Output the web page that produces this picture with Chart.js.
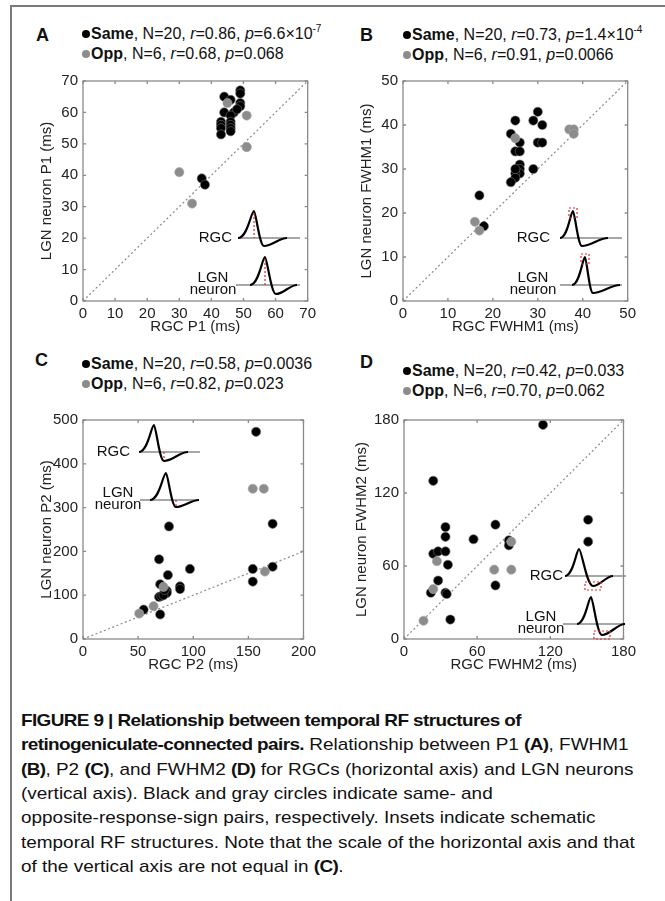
<!DOCTYPE html>
<html>
<head>
<meta charset="utf-8">
<script src="https://cdn.jsdelivr.net/npm/chart.js@4.4.1/dist/chart.umd.min.js"></script>
<style>
html,body{margin:0;padding:0;background:#fff;}
body{width:665px;height:901px;position:relative;overflow:hidden;font-family:"Liberation Sans",Arial,sans-serif;color:#111;}
.frameL{position:absolute;left:10px;top:5px;width:2px;height:896px;background:#7a7a7a;}
.frameT{position:absolute;left:10px;top:5px;width:655px;height:2px;background:#7a7a7a;}
canvas{position:absolute;}
.letter{position:absolute;font-weight:bold;font-size:18px;line-height:18px;}
.leg{position:absolute;font-size:16px;line-height:20px;white-space:nowrap;}
.dot{display:inline-block;width:8px;height:8px;border-radius:50%;margin-right:1px;vertical-align:1px;}
.leg sup{font-size:10px;vertical-align:7px;line-height:0;}
.cap{position:absolute;left:21px;font-family:"Liberation Sans",Arial,sans-serif;font-size:17px;line-height:24.3px;white-space:nowrap;transform-origin:0 50%;color:#111;}
</style>
</head>
<body>
<div class="frameL"></div>
<div class="frameT"></div>

<canvas id="chartA" width="300" height="271" style="left:20px;top:67px"></canvas>
<canvas id="chartB" width="300" height="271" style="left:340px;top:67px"></canvas>
<canvas id="chartC" width="300" height="270" style="left:20px;top:406px"></canvas>
<canvas id="chartD" width="300" height="270" style="left:340px;top:406px"></canvas>

<div class="letter" style="left:36px;top:26px">A</div>
<div class="letter" style="left:360px;top:26px">B</div>
<div class="letter" style="left:35px;top:351px">C</div>
<div class="letter" style="left:360px;top:353px">D</div>

<div class="leg" style="left:82px;top:24px"><span class="dot" style="background:#000"></span><b>Same</b>, N=20, <i>r</i>=0.86, <i>p</i>=6.6×10<sup>-7</sup><br><span class="dot" style="background:#8c8c8c"></span><b>Opp</b>, N=6, <i>r</i>=0.68, <i>p</i>=0.068</div>
<div class="leg" style="left:403px;top:25px"><span class="dot" style="background:#000"></span><b>Same</b>, N=20, <i>r</i>=0.73, <i>p</i>=1.4×10<sup>-4</sup><br><span class="dot" style="background:#8c8c8c"></span><b>Opp</b>, N=6, <i>r</i>=0.91, <i>p</i>=0.0066</div>
<div class="leg" style="left:82px;top:354px"><span class="dot" style="background:#000"></span><b>Same</b>, N=20, <i>r</i>=0.58, <i>p</i>=0.0036<br><span class="dot" style="background:#8c8c8c"></span><b>Opp</b>, N=6, <i>r</i>=0.82, <i>p</i>=0.023</div>
<div class="leg" style="left:403px;top:361px"><span class="dot" style="background:#000"></span><b>Same</b>, N=20, <i>r</i>=0.42, <i>p</i>=0.033<br><span class="dot" style="background:#8c8c8c"></span><b>Opp</b>, N=6, <i>r</i>=0.70, <i>p</i>=0.062</div>

<div class="cap" id="capBold" style="top:709px"><b>FIGURE 9 | Relationship between temporal RF structures of</b></div>
<div class="cap" style="top:733.3px"><b>retinogeniculate-connected pairs.</b> Relationship between P1 <b>(A)</b>, FWHM1</div>
<div class="cap" style="top:757.6px"><b>(B)</b>, P2 <b>(C)</b>, and FWHM2 <b>(D)</b> for RGCs (horizontal axis) and LGN neurons</div>
<div class="cap" style="top:781.9px">(vertical axis). Black and gray circles indicate same- and</div>
<div class="cap" style="top:806.2px">opposite-response-sign pairs, respectively. Insets indicate schematic</div>
<div class="cap" id="capReg" style="top:830.5px">temporal RF structures. Note that the scale of the horizontal axis and that</div>
<div class="cap" style="top:854.8px">of the vertical axis are not equal in <b>(C)</b>.</div>

<script>
// panel A: P1
const aSameX=[44,46,49,49,49,49,47,48,44,43,43,43,43,46,46,46,46,46,37,38]
const aSameY=[65,64,67,66,63,62,60,61,60,57,56,55,53,59,57,56,55,54,39,37]
const aOppX=[30,34,45,51,51,51]
const aOppY=[41,31,63,59,49,49]
const aTicks=[0,10,20,30,40,50,60,70]

// panel B: FWHM1
const bSameX=[30,29,31,25,24,26,25,26,30,31,26,26,26,25,25,24,29,17,18,25]
const bSameY=[43,41,40,41,38,36,34,34,36,36,31,30,29,29,28,27,30,24,17,30]
const bOppX=[16,17,25,37,38,38]
const bOppY=[18,16,37,39,39,38]
const bTicks=[0,10,20,30,40,50]

// panel C: P2
const cSameX=[78,69,97,77,70,76,76,88,88,69,71,55,70,73,74,157,172,172,154,154]
const cSameY=[257,182,160,146,125,110,105,120,114,96,98,67,56,100,112,473,263,165,160,131]
const cOppX=[51,64,73,154,164,165]
const cOppY=[58,75,119,343,343,154]
const cTicksX=[0,50,100,150,200]
const cTicksY=[0,100,200,300,400,500]

// panel D: FWHM2
const dSameX=[24,34,34,57,24,28,34,36,28,22,34,35,38,114,75,86,86,75,151,151]
const dSameY=[130,92,84,82,70,72,72,61,48,38,38,37,16,176,94,81,77,44,98,80]
const dOppX=[27,24,16,74,88,88]
const dOppY=[64,41,15,57,57,80]
const dTicks=[0,60,120,180]

const FONT='"Liberation Sans", Arial, sans-serif'

function zip(xs,ys){
    return xs.map((x,i)=>({x:x,y:ys[i]}))
}

// matlab style box with inward ticks
const boxPlugin={
    id:'box',
    afterDatasetsDraw(chart){
        const {ctx,chartArea:a,scales:{x,y}}=chart
        ctx.save()
        ctx.strokeStyle='#8a8a8a'
        ctx.lineWidth=1.3
        ctx.setLineDash([])
        ctx.strokeRect(a.left,a.top,a.right-a.left,a.bottom-a.top)
        ctx.beginPath()
        x.ticks.forEach(t=>{
            const px=x.getPixelForValue(t.value)
            ctx.moveTo(px,a.bottom);ctx.lineTo(px,a.bottom-3)
            ctx.moveTo(px,a.top);ctx.lineTo(px,a.top+3)
        })
        y.ticks.forEach(t=>{
            const py=y.getPixelForValue(t.value)
            ctx.moveTo(a.left,py);ctx.lineTo(a.left+3,py)
            ctx.moveTo(a.right,py);ctx.lineTo(a.right-3,py)
        })
        ctx.stroke()
        ctx.restore()
    }
}

// schematic waveform insets
function wave(ctx,L,T,w){
    const x0=L+w.x0,px=L+w.px,tx=L+w.tx,x1=L+w.x1,b=T+w.base,H=w.h,D=w.d
    ctx.strokeStyle='#8a8a8a'
    ctx.lineWidth=1.3
    ctx.setLineDash([])
    ctx.beginPath()
    ctx.moveTo(L+w.l0,b);ctx.lineTo(L+w.l1,b)
    ctx.stroke()
    ctx.strokeStyle='#000'
    ctx.lineWidth=2.2
    ctx.beginPath()
    ctx.moveTo(x0,b)
    ctx.bezierCurveTo(x0+0.6*(px-x0),b,px-0.18*(px-x0),b-H,px,b-H)
    ctx.bezierCurveTo(px+0.18*(tx-px),b-H,tx-0.45*(tx-px),b+D,tx,b+D)
    ctx.bezierCurveTo(tx+0.35*(x1-tx),b+D,x1-0.35*(x1-tx),b,x1,b)
    ctx.stroke()
    ctx.strokeStyle='#e0282d'
    ctx.lineWidth=1.2
    ctx.setLineDash([2,2])
    ctx.beginPath()
    if(w.mark==='peakLine'){ctx.moveTo(px,b-H+2);ctx.lineTo(px,b)}
    if(w.mark==='troughLine'){ctx.moveTo(tx,b);ctx.lineTo(tx,b+D-1)}
    if(w.mark==='peakBox'){ctx.rect(px-4,b-H-3,8,10)}
    if(w.mark==='troughBox'){ctx.rect(tx-8,b+D-4,16,8)}
    ctx.stroke()
}

const insetPlugin={
    id:'inset',
    afterDraw(chart,args,o){
        const {ctx,chartArea:a}=chart
        ctx.save()
        wave(ctx,a.left,a.top,o.rgc)
        wave(ctx,a.left,a.top,o.lgn)
        ctx.setLineDash([])
        ctx.fillStyle='#111'
        ctx.font='15px '+FONT
        ctx.textBaseline='middle'
        ctx.textAlign='right'
        ctx.fillText('RGC',a.left+o.rgc.lab,a.top+o.rgc.base)
        ctx.textAlign='center'
        ctx.fillText('LGN',a.left+o.lgn.lab,a.top+o.lgn.base-7)
        ctx.fillText('neuron',a.left+o.lgn.lab,a.top+o.lgn.base+5)
        ctx.restore()
    }
}

function panel(id,p){
    new Chart(document.getElementById(id),{
        type:'scatter',
        data:{
            datasets:[
                {
                    data:zip(p.oppX,p.oppY),
                    backgroundColor:'#8c8c8c',
                    borderColor:'#a8a8a8',
                    borderWidth:0.6,
                    pointRadius:4.6,
                    order:0
                },
                {
                    data:zip(p.sameX,p.sameY),
                    backgroundColor:'#000',
                    borderColor:'#707070',
                    borderWidth:0.6,
                    pointRadius:4.6,
                    order:1
                },
                {
                    data:zip(p.diag,p.diag),
                    showLine:true,
                    borderColor:'#8a8a8a',
                    borderDash:[2,2.5],
                    borderWidth:1.2,
                    pointRadius:0,
                    order:2
                }
            ]
        },
        options:{
            responsive:false,
            animation:false,
            devicePixelRatio:1,
            layout:{padding:{top:10,right:p.padR,left:0,bottom:0}},
            plugins:{
                legend:{display:false},
                tooltip:{enabled:false},
                inset:p.inset
            },
            scales:{
                x:{
                    type:'linear',
                    min:p.xTicks[0],
                    max:p.xTicks[p.xTicks.length-1],
                    afterBuildTicks:s=>{s.ticks=p.xTicks.map(v=>({value:v}))},
                    afterFit:s=>{s.height=37},
                    grid:{display:false,drawTicks:false},
                    border:{display:false},
                    ticks:{padding:4,color:'#222',font:{size:15,family:FONT},maxRotation:0},
                    title:{display:true,text:p.xTitle,color:'#222',font:{size:15,family:FONT},padding:{top:0,bottom:2}}
                },
                y:{
                    type:'linear',
                    min:p.yTicks[0],
                    max:p.yTicks[p.yTicks.length-1],
                    afterBuildTicks:s=>{s.ticks=p.yTicks.map(v=>({value:v}))},
                    afterFit:s=>{s.width=p.yW},
                    grid:{display:false,drawTicks:false},
                    border:{display:false},
                    ticks:{padding:5,color:'#222',font:{size:15,family:FONT}},
                    title:{display:true,text:p.yTitle,color:'#222',font:{size:15,family:FONT},padding:{top:p.yTitlePad,bottom:0}}
                }
            }
        },
        plugins:[boxPlugin,insetPlugin]
    })
}

panel('chartA',{
    sameX:aSameX,sameY:aSameY,oppX:aOppX,oppY:aOppY,diag:[0,70],
    xTicks:aTicks,yTicks:aTicks,padR:12,yW:63,yTitlePad:18,
    xTitle:'RGC P1 (ms)',yTitle:'LGN neuron P1 (ms)',
    inset:{
        rgc:{x0:155,px:171,tx:181,x1:204,base:157,h:27,d:8,l0:155,l1:217,lab:149,mark:'peakLine'},
        lgn:{x0:167,px:182,tx:193,x1:214,base:204,h:28,d:9,l0:153,l1:217,lab:130,mark:'peakLine'}
    }
})

panel('chartB',{
    sameX:bSameX,sameY:bSameY,oppX:bOppX,oppY:bOppY,diag:[0,50],
    xTicks:bTicks,yTicks:bTicks,padR:11,yW:63,yTitlePad:18,
    xTitle:'RGC FWHM1 (ms)',yTitle:'LGN neuron FWHM1 (ms)',
    inset:{
        rgc:{x0:157,px:170,tx:179,x1:205,base:157,h:27,d:8,l0:157,l1:219,lab:147,mark:'peakBox'},
        lgn:{x0:169,px:182,tx:190,x1:217,base:204,h:28,d:8,l0:157,l1:219,lab:130,mark:'peakBox'}
    }
})

panel('chartC',{
    sameX:cSameX,sameY:cSameY,oppX:cOppX,oppY:cOppY,diag:[0,200],
    xTicks:cTicksX,yTicks:cTicksY,padR:12,yW:63,yTitlePad:18,
    xTitle:'RGC P2 (ms)',yTitle:'LGN neuron P2 (ms)',
    inset:{
        rgc:{x0:56,px:71,tx:81,x1:105,base:32,h:27,d:9,l0:56,l1:117,lab:47,mark:'troughLine'},
        lgn:{x0:67,px:83,tx:93,x1:116,base:80,h:27,d:7,l0:57,l1:116,lab:35,mark:'troughLine'}
    }
})

panel('chartD',{
    sameX:dSameX,sameY:dSameY,oppX:dOppX,oppY:dOppY,diag:[0,180],
    xTicks:dTicks,yTicks:dTicks,padR:12,yW:64,yTitlePad:13,
    xTitle:'RGC FWHM2 (ms)',yTitle:'LGN neuron FWHM2 (ms)',
    inset:{
        rgc:{x0:161,px:175,tx:189,x1:209,base:156,h:27,d:10,l0:161,l1:222,lab:159,mark:'troughBox'},
        lgn:{x0:173,px:187,tx:198,x1:221,base:204,h:27,d:11,l0:159,l1:221,lab:137,mark:'troughBox'}
    }
})

// condensed caption: squeeze to the plain line, then tighten the bold runs a little
const reg=document.getElementById('capReg')
const k=614/reg.scrollWidth
const bold=document.getElementById('capBold')
const n=bold.textContent.length
const ls=(500/k-bold.scrollWidth)/n
document.querySelectorAll('.cap b').forEach(el=>{
    el.style.letterSpacing=ls+'px'
})
document.querySelectorAll('.cap').forEach(el=>{
    el.style.transform='scaleX('+k+')'
})
</script>
</body>
</html>
